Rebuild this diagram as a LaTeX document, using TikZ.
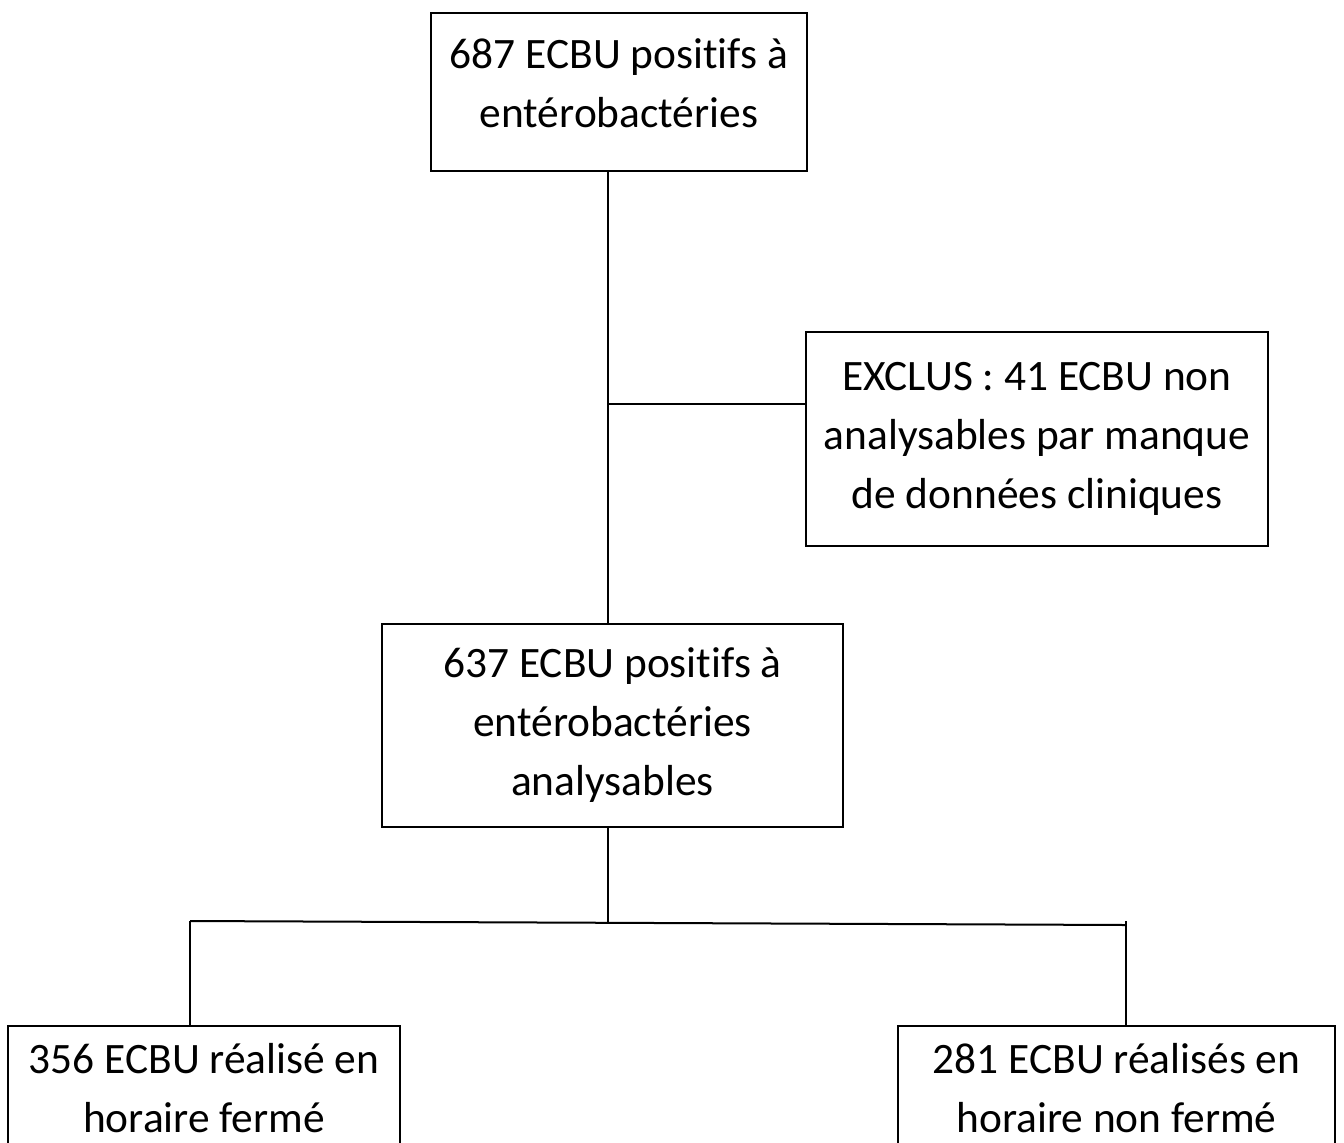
\documentclass[tikz,border=0pt]{standalone}
\usepackage{fontspec}
\setmainfont[Ligatures=NoCommon]{Carlito}

\begin{document}
\begin{tikzpicture}[x=0.5pt,y=-0.5pt,
    flowbox/.style={draw,line width=1pt,align=center,inner sep=0pt,
      font=\fontsize{21.7}{29.5}\selectfont}]
  \useasboundingbox (0,0) rectangle (1344,1142);
  \clip (0,0) rectangle (1344,1142);

  \node (top) at (619,92) [flowbox,minimum width=188pt,minimum height=79pt,text depth=9pt] {687 ECBU positifs à\\entérobactéries};
  \node (excl) at (1037,439) [flowbox,minimum width=231pt,minimum height=107pt] {EXCLUS : 41 ECBU non\\analysables par manque\\de données cliniques};
  \node (mid) at (612.5,725.5) [flowbox,minimum width=230.5pt,minimum height=101.5pt] {637 ECBU positifs à\\entérobactéries\\analysables};
  \node (left) at (204,1088) [flowbox,minimum width=196pt,minimum height=62pt] {356 ECBU réalisé en\\horaire fermé};
  \node (right) at (1116.5,1088) [flowbox,minimum width=218.5pt,minimum height=62pt] {281 ECBU réalisés en\\horaire non fermé};

  \coordinate (branch) at (608,404);
  \coordinate (jl) at (190,921);
  \coordinate (jm) at (608,923);
  \coordinate (jr) at (1126,925);
  \coordinate (jrtop) at (1126,921);

  \draw [line width=1pt] (branch |- top.south) -- (branch |- mid.north);
  \draw [line width=1pt] (branch) -- (excl.west |- branch);
  \draw [line width=1pt] (jm |- mid.south) -- (jm);
  \draw [line width=1pt] (jl) -- (jr);
  \draw [line width=1pt] (jl) -- (jl |- left.north);
  \draw [line width=1pt] (jrtop) -- (jrtop |- right.north);

\end{tikzpicture}
\end{document}
